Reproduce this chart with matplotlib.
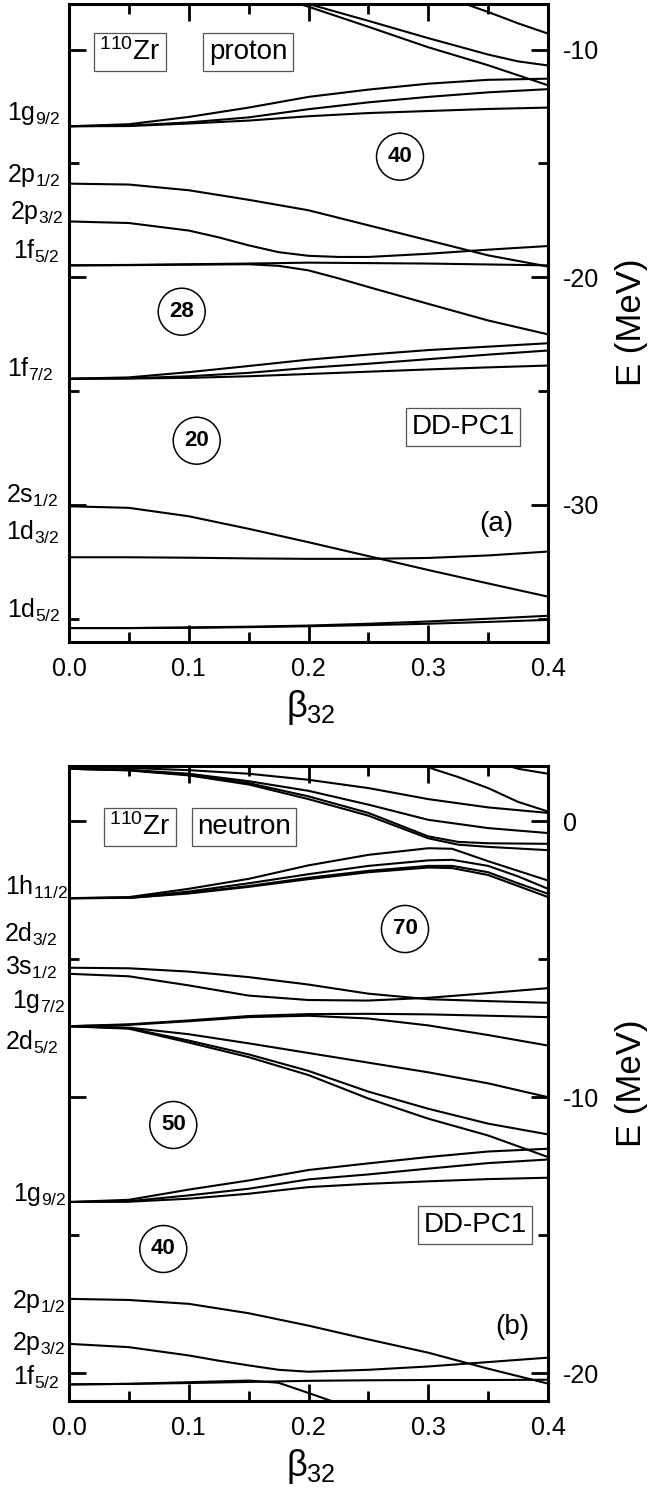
import matplotlib
matplotlib.use("Agg")
import matplotlib.pyplot as plt
from matplotlib.ticker import MultipleLocator, FormatStrFormatter

plt.rcParams['font.family'] = ['Liberation Sans', 'DejaVu Sans']
plt.rcParams['mathtext.fontset'] = 'custom'
plt.rcParams['mathtext.rm'] = 'Liberation Sans'
plt.rcParams['mathtext.it'] = 'Liberation Sans'
plt.rcParams['mathtext.bf'] = 'Liberation Sans:bold'
plt.rcParams['axes.unicode_minus'] = False

# ---------------- data ----------------
B9 = [0.0, 0.05, 0.10, 0.15, 0.20, 0.25, 0.30, 0.35, 0.40]

# (a) proton levels of 110Zr
p_1g92_a = [-13.37, -13.28, -12.96, -12.55, -12.08, -11.76, -11.50, -11.33, -11.28]
p_1g92_b = [-13.37, -13.34, -13.20, -12.98, -12.62, -12.32, -12.08, -11.88, -11.74]
p_1g92_c = [-13.37, -13.36, -13.25, -13.12, -12.93, -12.79, -12.70, -12.61, -12.55]
p_upA_b = [0.18, 0.20, 0.25, 0.30, 0.35, 0.375, 0.40]
p_upA_e = [-7.70, -8.00, -8.74, -9.50, -10.22, -10.52, -10.70]
p_upB_b = [0.18, 0.20, 0.25, 0.30, 0.35, 0.40]
p_upB_e = [-7.80, -8.12, -9.00, -9.90, -10.69, -11.57]
p_upC_b = [0.32, 0.331, 0.35, 0.375, 0.40]
p_upC_e = [-7.80, -8.00, -8.35, -8.85, -9.30]
p_2p12 = [-15.89, -15.93, -16.18, -16.60, -17.06, -17.72, -18.38, -19.04, -19.53]
p_2p32_b = [0.0, 0.05, 0.10, 0.125, 0.15, 0.175, 0.20, 0.225, 0.25, 0.30, 0.35, 0.40]
p_2p32_e = [-17.55, -17.62, -17.95, -18.25, -18.60, -18.90, -19.06, -19.11, -19.11,
            -18.97, -18.79, -18.63]
p_1f52_a = [-19.48, -19.46, -19.43, -19.40, -19.36, -19.38, -19.40, -19.44, -19.48]
p_1f52_b_b = [0.0, 0.05, 0.10, 0.15, 0.175, 0.20, 0.225, 0.25, 0.30, 0.35, 0.40]
p_1f52_b_e = [-19.48, -19.47, -19.45, -19.43, -19.50, -19.70, -20.05, -20.43, -21.17,
              -21.90, -22.51]
p_1f72_a = [-24.46, -24.40, -24.17, -23.90, -23.62, -23.40, -23.20, -23.05, -22.90]
p_1f72_b = [-24.46, -24.44, -24.35, -24.20, -23.98, -23.80, -23.60, -23.40, -23.22]
p_1f72_c = [-24.46, -24.45, -24.42, -24.35, -24.25, -24.15, -24.05, -23.96, -23.88]
p_2s12 = [-30.06, -30.13, -30.50, -31.05, -31.64, -32.25, -32.86, -33.45, -34.03]
p_1d32 = [-32.30, -32.30, -32.32, -32.35, -32.37, -32.37, -32.33, -32.22, -32.05]
p_1d52_a = [-35.41, -35.41, -35.38, -35.35, -35.30, -35.22, -35.12, -35.00, -34.87]
p_1d52_b = [-35.41, -35.41, -35.40, -35.37, -35.33, -35.28, -35.22, -35.14, -35.05]

# (b) neutron levels of 110Zr
n_top1 = [1.95, 1.93, 1.85, 1.72, 1.50, 1.20, 0.80, 0.50, 0.30]
n_top2 = [1.90, 1.86, 1.72, 1.45, 1.10, 0.60, 0.05, -0.25, -0.43]
n_top34_b = [0.0, 0.05, 0.10, 0.15, 0.20, 0.25, 0.30, 0.325, 0.35, 0.40]
n_top3 = [1.90, 1.85, 1.68, 1.38, 0.90, 0.30, -0.55, -0.75, -0.80, -0.82]
n_top4 = [1.90, 1.84, 1.66, 1.33, 0.80, 0.20, -0.62, -0.85, -0.93, -1.05]
n_top5_b = [0.29, 0.30, 0.325, 0.35, 0.375, 0.40]
n_top5_e = [2.15, 1.95, 1.60, 1.20, 0.70, 0.35]
n_top6_b = [0.36, 0.375, 0.40]
n_top6_e = [2.10, 1.90, 1.72]
n_1h_b = [0.0, 0.05, 0.10, 0.15, 0.20, 0.25, 0.30, 0.32, 0.35, 0.375, 0.40]
n_1h_a = [-2.79, -2.75, -2.45, -2.09, -1.60, -1.22, -0.98, -1.00, -1.45, -1.80, -2.15]
n_1h_bb = [-2.79, -2.77, -2.55, -2.25, -1.92, -1.62, -1.42, -1.40, -1.62, -2.00, -2.45]
n_1h_c = [-2.79, -2.78, -2.60, -2.35, -2.05, -1.80, -1.62, -1.62, -1.85, -2.25, -2.63]
n_1h_d = [-2.79, -2.78, -2.62, -2.38, -2.10, -1.85, -1.68, -1.70, -1.95, -2.35, -2.75]
n_s1 = [-5.31, -5.33, -5.45, -5.65, -5.92, -6.25, -6.45, -6.52, -6.58]
n_s2 = [-5.53, -5.62, -5.95, -6.32, -6.48, -6.50, -6.40, -6.23, -6.05]
n_t1 = [-7.43, -7.36, -7.22, -7.06, -6.99, -6.98, -7.00, -7.05, -7.10]
n_t2 = [-7.43, -7.38, -7.25, -7.10, -7.05, -7.15, -7.40, -7.75, -8.13]
n_x = [-7.43, -7.48, -7.72, -8.05, -8.40, -8.75, -9.10, -9.50, -10.00]
n_d1 = [-7.43, -7.50, -7.95, -8.45, -9.05, -9.80, -10.42, -10.96, -11.35]
n_d2 = [-7.43, -7.52, -8.02, -8.55, -9.20, -10.05, -10.78, -11.39, -12.17]
n_1g92_a = [-13.80, -13.72, -13.35, -13.02, -12.64, -12.40, -12.17, -11.97, -11.87]
n_1g92_b = [-13.80, -13.77, -13.56, -13.32, -12.98, -12.80, -12.59, -12.39, -12.26]
n_1g92_c = [-13.80, -13.79, -13.68, -13.50, -13.26, -13.14, -13.05, -12.97, -12.92]
n_2p12 = [-17.31, -17.35, -17.49, -17.83, -18.28, -18.78, -19.26, -19.84, -20.38]
n_2p32_b = [0.0, 0.05, 0.10, 0.125, 0.15, 0.175, 0.20, 0.25, 0.30, 0.35, 0.40]
n_2p32_e = [-18.94, -19.06, -19.36, -19.55, -19.72, -19.88, -19.95, -19.88, -19.76,
            -19.60, -19.44]
n_1f52_a = [-20.41, -20.39, -20.36, -20.32, -20.28, -20.26, -20.25, -20.25, -20.24]
n_1f52_b_b = [0.0, 0.05, 0.10, 0.15, 0.175, 0.20, 0.225, 0.25]
n_1f52_b_e = [-20.41, -20.39, -20.33, -20.27, -20.35, -20.72, -21.10, -21.50]

p_curves = [(B9, p_1g92_a), (B9, p_1g92_b), (B9, p_1g92_c),
            (p_upA_b, p_upA_e), (p_upB_b, p_upB_e), (p_upC_b, p_upC_e),
            (B9, p_2p12), (p_2p32_b, p_2p32_e), (B9, p_1f52_a), (p_1f52_b_b, p_1f52_b_e),
            (B9, p_1f72_a), (B9, p_1f72_b), (B9, p_1f72_c),
            (B9, p_2s12), (B9, p_1d32), (B9, p_1d52_a), (B9, p_1d52_b)]
n_curves = [(B9, n_top1), (B9, n_top2), (n_top34_b, n_top3), (n_top34_b, n_top4),
            (n_top5_b, n_top5_e), (n_top6_b, n_top6_e),
            (n_1h_b, n_1h_a), (n_1h_b, n_1h_bb), (n_1h_b, n_1h_c), (n_1h_b, n_1h_d),
            (B9, n_s1), (B9, n_s2), (B9, n_t1), (B9, n_t2), (B9, n_x), (B9, n_d1), (B9, n_d2),
            (B9, n_1g92_a), (B9, n_1g92_b), (B9, n_1g92_c),
            (B9, n_2p12), (n_2p32_b, n_2p32_e), (B9, n_1f52_a), (n_1f52_b_b, n_1f52_b_e)]

p_labels = [r'1g$_{9/2}$', r'2p$_{1/2}$', r'2p$_{3/2}$', r'1f$_{5/2}$',
            r'1f$_{7/2}$', r'2s$_{1/2}$', r'1d$_{3/2}$', r'1d$_{5/2}$']
n_labels = [r'1h$_{11/2}$', r'2d$_{3/2}$', r'3s$_{1/2}$', r'1g$_{7/2}$', r'2d$_{5/2}$',
            r'1g$_{9/2}$', r'2p$_{1/2}$', r'2p$_{3/2}$', r'1f$_{5/2}$']
p_magic = ['40', '28', '20']
n_magic = ['70', '50', '40']

# ---------------- layout (pixels) ----------------
W, H = 655, 1490
fig = plt.figure(figsize=(W / 100, H / 100), dpi=100)


def fx(x):
    return x / W


def fy(y):
    return 1 - y / H


AX_L, AX_R = 69, 548
ax1 = fig.add_axes([fx(AX_L), fy(641.5), (AX_R - AX_L) / W, (641.5 - 4) / H])
ax2 = fig.add_axes([fx(AX_L), fy(1400.7), (AX_R - AX_L) / W, (1400.7 - 766) / H])

for ax, curves in ((ax1, p_curves), (ax2, n_curves)):
    for b, e in curves:
        ax.plot(b, e, color='black', lw=1.5, solid_joinstyle='round')
    ax.set_xlim(0, 0.4)
    ax.xaxis.set_major_locator(MultipleLocator(0.1))
    ax.xaxis.set_minor_locator(MultipleLocator(0.05))
    ax.xaxis.set_major_formatter(FormatStrFormatter('%.1f'))
    ax.yaxis.set_major_locator(MultipleLocator(10))
    ax.yaxis.set_minor_locator(MultipleLocator(5))
    ax.yaxis.set_major_formatter(FormatStrFormatter('%d'))
    ax.tick_params(which='both', direction='in', top=True, right=True, left=True,
                   bottom=True, labelleft=False, labelright=True, labelsize=18,
                   pad=11, colors='black')
    ax.tick_params(which='major', length=12, width=2.0)
    ax.tick_params(which='minor', length=7, width=2.0)
    for s in ax.spines.values():
        s.set_linewidth(2.2)

ax1.set_ylim(-36, -8)
ax2.set_ylim(-21, 2)

# orbital labels on the left
p_lab_pos = [(7, 120), (7, 181.7), (10, 219), (13, 259.3), (7, 376.7),
             (6, 502.7), (6, 540), (7, 617.7)]
n_lab_pos = [(5, 895), (4, 941.7), (5, 975), (12, 1008.3), (5, 1050),
             (13, 1200.7), (12, 1308.3), (12, 1350), (13, 1385)]
for txt, (x, y) in list(zip(p_labels, p_lab_pos)) + list(zip(n_labels, n_lab_pos)):
    fig.text(fx(x), fy(y), txt, ha='left', va='baseline', fontsize=18)

# magic-number circles
circ_pos = [(400, 156.7), (181.7, 311.7), (196.7, 440.7),
            (405, 929), (173.3, 1125), (163.3, 1249)]
for txt, (x, y) in zip(p_magic + n_magic, circ_pos):
    fig.text(fx(x), fy(y), txt, ha='center', va='center', fontsize=16,
             fontweight='bold',
             bbox=dict(boxstyle='circle,pad=0.5', fc='none', ec='black', lw=1.1))

box = dict(boxstyle='square,pad=0.2', fc='white', ec='#555555', lw=0.9)
fig.text(fx(130), fy(52), r'$^{110}$Zr', ha='center', va='center', fontsize=20, bbox=box)
fig.text(fx(248), fy(52), 'proton', ha='center', va='center', fontsize=20, bbox=box)
fig.text(fx(463), fy(427), 'DD-PC1', ha='center', va='center', fontsize=20, bbox=box)
fig.text(fx(496), fy(524), '(a)', ha='center', va='center', fontsize=20)

fig.text(fx(140), fy(827), r'$^{110}$Zr', ha='center', va='center', fontsize=20, bbox=box)
fig.text(fx(244), fy(827), 'neutron', ha='center', va='center', fontsize=20, bbox=box)
fig.text(fx(475), fy(1225), 'DD-PC1', ha='center', va='center', fontsize=20, bbox=box)
fig.text(fx(512), fy(1327), '(b)', ha='center', va='center', fontsize=20)

# axis titles
for ytop, ybot in ((4, 641.5), (766, 1400.7)):
    fig.text(fx(311), fy(ybot + 66), r'$\beta_{32}$', ha='center', va='center', fontsize=26)
    fig.text(fx(632), fy((ytop + ybot) / 2), 'E (MeV)', rotation=90,
             ha='center', va='center', fontsize=25)

fig.savefig('out.png', dpi=100)
